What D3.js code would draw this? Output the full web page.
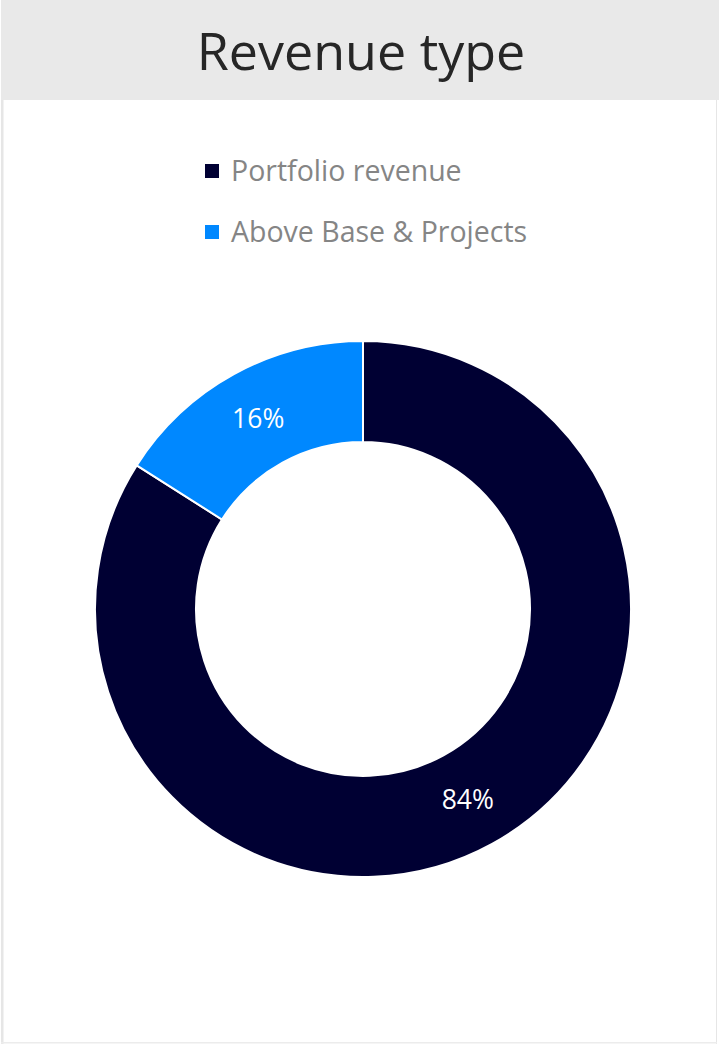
<!DOCTYPE html>
<html><head><meta charset="utf-8">
<script src="https://cdn.jsdelivr.net/npm/d3@7"></script>
<style>html,body{margin:0;padding:0;background:#fff;}svg{display:block;}</style>
</head><body>
<svg id="chart" width="719" height="1046"></svg>
<script>
const title = "Revenue type";
const categories = ["Portfolio revenue", "Above Base & Projects"];
const values = [84, 16];
const colors = ["#000033", "#0088ff"];

const svg = d3.select("#chart");
const W = 719, H = 1046;

// frame
svg.append("rect").attr("x", 0).attr("y", 0).attr("width", W).attr("height", H).attr("fill", "#fff");
svg.append("rect").attr("x", 1).attr("y", 0).attr("width", W - 1).attr("height", 100).attr("fill", "#e9e9e9");
svg.append("rect").attr("x", 1).attr("y", 100).attr("width", 2.5).attr("height", 944).attr("fill", "#e6e6e6");
svg.append("rect").attr("x", 716).attr("y", 100).attr("width", 1).attr("height", 944).attr("fill", "#e6e6e6");
svg.append("rect").attr("x", 1).attr("y", 1042).attr("width", 716).attr("height", 1.5).attr("fill", "#ececec");

svg.append("text").attr("x", 361).attr("y", 70).attr("text-anchor", "middle")
  .attr("font-family", "'Open Sans', sans-serif").attr("font-size", 52)
  .attr("fill", "#262626").text(title);

// legend
const legend = svg.append("g");
categories.forEach((c, i) => {
  const y = 171 + i * 61;
  legend.append("rect").attr("x", 205).attr("y", y - 7).attr("width", 14).attr("height", 14).attr("fill", colors[i]);
  legend.append("text").attr("x", 231).attr("y", y).attr("dy", "0.35em")
    .attr("font-family", "'Open Sans', sans-serif").attr("font-size", 28.5)
    .attr("fill", "#858585").text(c);
});

// donut
const cx = 363, cy = 609, rOuter = 268, rInner = 167;
const pie = d3.pie().sort(null).value(d => d)(values);
const arc = d3.arc().innerRadius(rInner).outerRadius(rOuter);
const g = svg.append("g").attr("transform", `translate(${cx},${cy})`);
g.selectAll("path").data(pie).join("path")
  .attr("d", arc).attr("fill", (d, i) => colors[i])
  .attr("stroke", "#fff").attr("stroke-width", 2);
g.selectAll("text.lbl").data(pie).join("text").attr("class", "lbl")
  .attr("transform", d => `translate(${arc.centroid(d)})`)
  .attr("text-anchor", "middle").attr("dy", "0.35em")
  .attr("font-family", "'Open Sans', sans-serif").attr("font-size", 26.5)
  .attr("fill", "#fff").text(d => d.data + "%");
</script>
</body></html>
